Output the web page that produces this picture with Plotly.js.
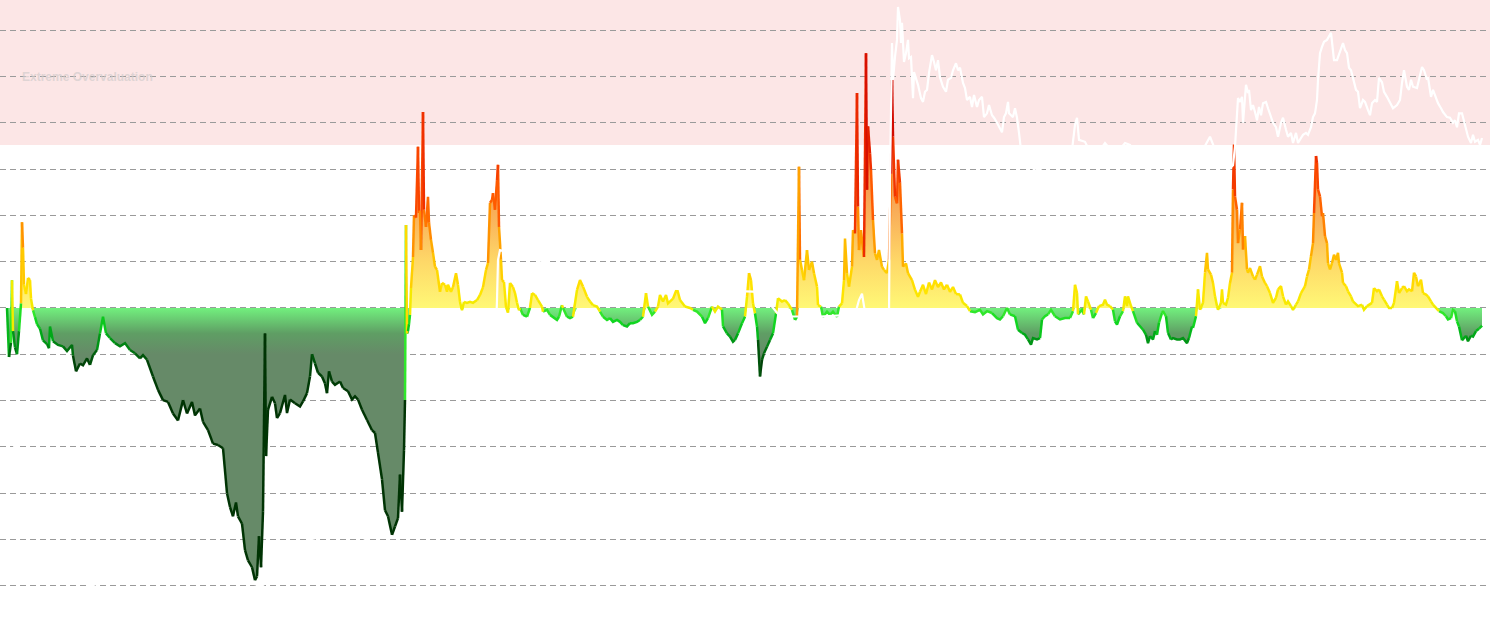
<!DOCTYPE html>
<html>
<head>
<meta charset="utf-8">
<script src="https://cdn.plot.ly/plotly-3.0.1.min.js"></script>
<style>
html,body{margin:0;padding:0;background:#fff;}
#chart{width:1490px;height:633px;}
</style>
</head>
<body>
<div id="chart"></div>
<script>
// ---- Oscillator (time index, value in grid units) ----
const oscT = [7,9,11,12,13,15,17,19,21,22,23,24,26,28,30,31,33,35,37,40,43,47,49,50,53,58,63,67,72,73,76,80,83,87,90,93,97,100,103,106,110,115,120,125,130,135,140,143,147,153,158,163,168,173,178,183,187,192,195,200,203,208,213,218,223,227,230,233,236,238,242,245,248,252,255,257,259,261,263,265,266,268,272,275,277,280,285,287,290,295,300,303,307,310,312,315,318,322,325,327,329,332,335,340,343,348,352,355,358,362,367,372,375,378,382,385,388,392,395,398,400,402,404,405,
406,407,408,409,410,411,413,414,416,418,419,420,421,423,424,426,428,429,431,433,435,437,440,442,445,447,448,451,453,456,458,460,462,464,467,470,473,477,480,483,486,488,490,492,493,495,497,498,499,501,502,504,506,508,510,513,515,517,519,
520,523,527,530,532,535,538,542,543,547,550,553,557,559,562,563,567,570,573,577,580,583,587,590,593,597,600,603,607,610,613,617,620,623,627,630,633,637,640,643,646,648,652,655,658,660,663,666,668,673,677,680,685,690,693,697,702,705,708,712,715,718,722,723,727,730,733,735,738,742,745,747,749,751,753,755,757,758,760,762,764,767,770,773,776,778,782,785,788,792,795,797,799,800,802,804,807,809,812,814,817,818,821,823,827,830,833,837,839,842,844,845,847,849,852,853,855,857,858,859,861,863,864,866,867,868,870,871,873,875,877,879,882,884,887,889,891,892,893,895,897,898,900,902,903,906,908,912,915,918,920,923,926,929,932,935,938,941,944,947,950,953,956,960,963,967,
970,975,980,983,987,992,997,1000,1003,1007,1010,1015,1018,1022,1025,1028,1031,1033,1037,1040,1042,1045,1048,1051,1055,1060,1065,1070,1073,1075,1077,1078,1082,1084,1086,1088,1091,1093,1096,1099,1103,1105,1107,1110,1113,1115,1117,1120,1123,1125,1127,1128,1131,1133,1137,1140,1143,1146,1148,1150,1153,1155,1157,1159,1162,1163,1166,1168,1171,1173,1177,1180,1183,1187,1189,1192,1193,1196,1198,1200,1203,1205,1207,1208,1211,1213,1215,1217,1218,1221,1222,1223,1226,1228,1230,1232,1233,1234,1235,1237,1238,1240,1242,1243,1245,1247,1248,1250,1253,1255,1257,1260,1262,1265,1267,1270,1273,1276,1278,1281,1283,1286,1288,1291,1293,1296,1298,1301,1303,1305,1307,1309,1311,1313,1314,1316,1317,1318,1320,1322,1323,1325,1327,1328,1330,1332,1334,1336,1338,1339,1342,1343,1346,1348,1351,1353,1356,1358,1362,1364,1367,1369,1372,1374,1377,1379,1382,1384,1387,1389,1392,1394,1397,1399,1402,1404,1407,1409,1412,1414,1416,1418,1421,1423,1426,1428,1431,1433,1436,1439,1443,1446,1448,1451,1453,1455,1457,1459,1462,1466,1468,1471,1473,1476,1479,1482];

const oscV = [0,-1.06,-0.75,0.6,-0.5,-0.85,-1.0,-0.5,0.1,1.85,1.3,0.5,0.3,0.65,0.6,0.2,-0.05,-0.2,-0.35,-0.45,-0.7,-0.78,-0.87,-0.4,-0.72,-0.8,-0.83,-0.93,-0.8,-1.03,-1.37,-1.2,-1.24,-1.09,-1.23,-1.02,-0.91,-0.55,-0.19,-0.55,-0.65,-0.76,-0.83,-0.76,-0.91,-0.98,-1.09,-1.02,-1.12,-1.48,-1.77,-1.99,-2.03,-2.28,-2.43,-1.99,-2.28,-2.03,-2.32,-2.17,-2.46,-2.64,-2.93,-2.96,-3.03,-4.0,-4.3,-4.5,-4.2,-4.5,-4.66,-5.23,-5.45,-5.6,-5.88,-5.8,-4.93,-5.6,-4.4,-0.55,-3.2,-2.2,-1.92,-2.06,-2.38,-2.27,-1.88,-2.27,-1.98,-2.06,-2.13,-2.02,-1.84,-1.48,-1.0,-1.2,-1.4,-1.48,-1.63,-1.84,-1.37,-1.59,-1.66,-1.59,-1.73,-1.8,-1.98,-1.91,-1.98,-2.2,-2.42,-2.64,-2.7,-3.13,-3.7,-4.37,-4.5,-4.9,-4.72,-4.54,-3.6,-4.4,-3.07,-1.99,
1.79,-0.55,-0.5,-0.35,-0.15,0.43,1.1,2.0,1.95,3.48,2.05,2.1,1.25,4.23,2.12,1.75,2.4,1.84,1.47,1.19,0.89,0.82,0.35,0.54,0.5,0.35,0.5,0.35,0.45,0.75,0.5,0.13,-0.05,0.13,0.11,0.13,0.11,0.17,0.28,0.45,0.82,0.97,2.27,2.33,2.48,2.12,2.76,3.09,1.75,1.04,0.6,0.56,0.02,-0.1,0.54,0.45,0.32,0.11,-0.05,
0,-0.15,-0.19,0,0.32,0.28,0.17,0.03,-0.08,-0.04,-0.15,-0.19,-0.26,-0.19,0.06,0,-0.19,-0.22,-0.19,0.39,0.6,0.46,0.24,0.14,0.06,0.03,-0.08,-0.19,-0.26,-0.22,-0.3,-0.26,-0.3,-0.37,-0.4,-0.33,-0.33,-0.3,-0.26,-0.19,0.32,0.03,-0.15,-0.08,0.03,0.28,0.14,0.28,0.1,0.2,0.42,0.17,0.03,0,-0.04,-0.08,-0.19,-0.33,-0.22,0.03,-0.08,0.03,-0.04,-0.4,-0.55,-0.62,-0.73,-0.69,-0.55,-0.33,-0.19,0.24,0.75,0.6,0.1,-0.12,-0.4,-0.69,-1.48,-1.12,-0.98,-0.84,-0.69,-0.55,-0.12,0.21,0.14,0.17,0.1,-0.04,-0.26,-0.19,3.05,1.04,0.82,0.6,1.25,0.82,1.0,0.75,0.46,0.06,0.03,-0.19,-0.08,-0.15,-0.08,-0.19,0.03,0.1,0.6,1.5,0.75,0.46,0.89,1.68,1.61,4.64,2.19,1.25,1.68,1.25,1.1,5.5,2.55,3.92,3.34,2.98,1.9,1.18,1.04,1.25,0.89,0.82,0.75,1.04,2.9,4.92,3.7,2.4,2.26,3.2,2.7,1.61,0.89,0.96,0.75,0.6,0.39,0.24,0.35,0.5,0.3,0.55,0.4,0.6,0.45,0.55,0.4,0.5,0.35,0.45,0.3,0.29,0.11,0.04,
-0.07,-0.09,-0.04,-0.14,-0.07,-0.11,-0.22,-0.25,-0.18,0,-0.14,-0.18,-0.47,-0.54,-0.58,-0.68,-0.79,-0.65,-0.68,-0.65,-0.25,-0.18,-0.14,-0.04,-0.18,-0.25,-0.22,-0.22,-0.07,0.5,0.32,-0.14,-0.04,-0.14,0.25,0.14,-0.04,-0.22,-0.11,0.04,0.07,0.18,0.07,0.04,-0.04,-0.29,-0.36,-0.18,-0.07,0.25,0.04,0.25,0.04,-0.07,-0.32,-0.4,-0.47,-0.58,-0.76,-0.61,-0.68,-0.5,-0.58,-0.32,-0.11,-0.07,-0.18,-0.54,-0.68,-0.65,-0.68,-0.68,-0.65,-0.76,-0.65,-0.4,-0.43,-0.18,0.4,-0.04,0.11,0.76,1.19,0.83,0.72,0.54,0.25,0.04,-0.04,0.11,0.4,0.11,0.07,0.22,0.54,0.76,2.56,3.53,2.41,2.12,1.4,1.69,2.27,1.26,1.55,0.83,0.76,0.86,0.68,0.61,0.72,0.9,0.68,0.54,0.47,0.32,0.11,0.22,0.4,0.47,0.25,0.07,0.14,0.04,-0.04,0.07,0.14,0.32,0.4,0.47,0.68,0.83,1.12,1.4,2.05,3.28,3.13,2.56,2.41,1.98,2.05,1.55,1.4,0.97,0.83,0.97,1.15,1.04,1.19,0.97,0.76,0.54,0.47,0.36,0.25,0.14,0.07,0.04,0.07,-0.04,0.04,0.07,0.11,0.43,0.36,0.4,0.25,0.18,0.07,0,0,0.11,0.58,0.32,0.43,0.47,0.36,0.4,0.36,0.76,0.68,0.47,0.61,0.32,0.29,0.25,0.14,0.07,0,-0.07,-0.11,-0.18,-0.25,-0.22,-0.04,-0.07,-0.29,-0.4,-0.7,-0.6,-0.72,-0.6,-0.62,-0.5,-0.45,-0.38];

// ---- Price (white line, secondary scale 0-100) ----
const priceT = [5,15,25,40,60,75,90,110,140,170,210,263,290,310,350,400,455,462,480,496,497,498,500,530,560,600,650,700,760,780,820,855,859,862,865,889,890,892,893,895,897,898,900,901,902,904,906,908,909,911,913,914,916,918,921,923,925,927,929,932,934,936,938,940,943,946,948,951,953,956,958,960,963,965,967,970,972,974,977,979,982,984,987,989,992,994,997,999,1002,1004,1006,1008,1009,1011,1013,1015,1017,1019,1021,1030,1037,1045,1060,1072,1075,1077,1079,1085,1090,1100,1105,1115,1125,1130,1140,1148,1157,1168,1180,1192,1200,1207,1210,1214,1220,1228,1233,1235,1237,1238,1240,1242,1243,1246,1248,1249,1251,1253,1255,1257,1259,1261,1263,1266,1268,1271,1273,1276,1278,1281,1283,1286,1288,1291,1293,1296,1298,1301,1303,1306,1308,1311,1313,1315,1317,1318,1320,1322,1324,1327,1329,1331,1332,1334,1337,1339,1342,1343,1345,1347,1349,1351,1353,1356,1358,1360,1363,1365,1368,1370,1372,1375,1377,1379,1382,1384,1387,1390,1393,1397,1400,1402,1404,1407,1409,1411,1413,1417,1419,1422,1424,1427,1428,1431,1433,1436,1438,1441,1443,1447,1450,1453,1455,1457,1459,1462,1464,1466,1468,1471,1473,1475,1478,1480,1482];
const priceV = [25.8,29.7,28.6,21.0,16.3,13.9,7.6,6.5,7.1,5.2,5.5,7.6,10.7,14.8,16.3,11.5,11.5,47.9,47.6,47.9,52.6,58.9,60.5,59.2,58.1,55.5,54.5,54.2,53.9,50.0,50.0,50.3,52.6,53.6,50.7,50.2,71.6,93.2,87.4,91.0,93.7,98.9,96.8,93.2,96.4,90.2,91.6,93.7,90.8,91.0,84.5,88.6,87.7,86.6,84.5,83.9,85.5,85.8,88.5,91.3,90.2,88.9,90.5,87.8,86.3,85.5,87.4,87.7,88.9,90.0,88.9,89.3,86.9,86.1,84.2,84.7,83.1,85.0,83.1,84.2,84.7,81.5,82.1,83.4,81.8,81.4,80.6,79.9,79.1,81.5,82.1,83.9,82.1,81.8,81.5,82.9,81.4,79.0,76.3,73.9,72.8,73.9,74.7,76.3,80.3,81.4,77.9,77.6,76.0,76.3,77.4,75.5,77.4,77.1,74.7,72.8,74.7,72.8,72.4,73.1,75.5,77.4,78.4,76.8,75.0,73.1,73.9,76.8,81.5,84.5,83.9,84.7,80.6,86.6,85.3,85.8,82.6,83.4,82.3,81.0,83.1,81.8,83.7,83.9,82.9,81.5,80.6,79.9,78.4,80.6,81.4,79.5,78.4,79.0,77.4,79.0,77.4,78.2,78.7,79.0,78.7,79.9,81.5,82.1,84.2,87.4,91.6,92.6,93.4,93.7,94.2,94.8,93.4,90.5,90.5,91.3,92.6,93.2,92.1,91.6,89.3,88.9,87.7,85.8,85.5,82.9,84.2,83.9,82.6,81.8,83.7,84.2,83.9,87.7,87.0,85.5,84.7,83.7,82.9,83.4,84.2,86.9,88.9,86.3,85.8,87.4,86.3,86.1,87.4,89.4,88.9,87.4,87.8,84.7,85.8,84.7,83.7,82.9,82.3,81.5,81.4,80.6,81.0,79.9,82.1,82.1,81.0,79.8,78.4,77.4,78.7,77.6,77.9,77.1,78.2];

// ---- Zones / labels ----
const zoneLabel = "Extreme Overvaluation";
const zoneFrom = 3.52;

// ---- colour helpers (styling) ----
const posStops = [[0,[242,236,0]],[0.4,[255,228,0]],[1,[255,196,0]],[1.5,[255,154,0]],[2,[255,112,0]],[2.5,[255,84,0]],[3.2,[240,48,0]],[4,[216,16,0]],[5,[196,0,0]]];
const negStops = [[0,[64,240,48]],[0.3,[16,214,32]],[0.6,[0,168,24]],[0.9,[0,112,16]],[1.2,[0,68,8]],[2,[0,52,4]]];
function interp(stops, a){
  if (a <= stops[0][0]) return stops[0][1];
  for (let i=1;i<stops.length;i++){
    if (a <= stops[i][0]){
      const [a0,c0]=stops[i-1],[a1,c1]=stops[i];
      const f=(a-a0)/(a1-a0);
      return c0.map((c,k)=>Math.round(c+(c1[k]-c)*f));
    }
  }
  return stops[stops.length-1][1];
}
function colorFor(v){
  const c = v >= 0 ? interp(posStops, v) : interp(negStops, -v);
  return 'rgb('+c.join(',')+')';
}

const traces = [];
// fills
traces.push({
  x: oscT, y: oscV.map(v=>Math.min(v,0)), type:'scatter', mode:'lines',
  line:{width:0}, fill:'tozeroy', hoverinfo:'skip',
  fillgradient:{type:'vertical', start:-1, stop:0,
    colorscale:[[0,'#668a68'],[0.45,'#5f9e64'],[1,'#72f07e']]}
});
traces.push({
  x: oscT, y: oscV.map(v=>Math.max(v,0)), type:'scatter', mode:'lines',
  line:{width:0}, fill:'tozeroy', hoverinfo:'skip',
  fillgradient:{type:'vertical', start:0, stop:4,
    colorscale:[[0,'#fff876'],[0.25,'#fed868'],[0.5,'#f9b05a'],[0.75,'#f59048'],[1,'#f07838']]}
});
// price line
traces.push({
  x: priceT, y: priceV, type:'scatter', mode:'lines', yaxis:'y2',
  line:{color:'#ffffff', width:2.2}, hoverinfo:'skip'
});
// oscillator line, coloured by level
const groups = new Map();
let prevKey = null;
for (let i=0;i<oscT.length-1;i++){
  const m = (oscV[i]+oscV[i+1])/2;
  const key = (Math.round(m*10)/10).toFixed(1);
  if (!groups.has(key)) groups.set(key,{x:[],y:[]});
  const g = groups.get(key);
  if (key === prevKey){
    g.x.push(oscT[i+1]); g.y.push(oscV[i+1]);
  } else {
    if (g.x.length){ g.x.push(null); g.y.push(null); }
    g.x.push(oscT[i], oscT[i+1]); g.y.push(oscV[i], oscV[i+1]);
  }
  prevKey = key;
}
for (const [key,g] of groups){
  traces.push({x:g.x, y:g.y, type:'scatter', mode:'lines', connectgaps:false,
    line:{color:colorFor(parseFloat(key)), width:2.5}, hoverinfo:'skip'});
}

const layout = {
  width:1490, height:633,
  margin:{l:0,r:0,t:0,b:0,pad:0},
  paper_bgcolor:'#ffffff', plot_bgcolor:'rgba(0,0,0,0)',
  showlegend:false,
  xaxis:{range:[0,1490], showgrid:false, zeroline:false, showticklabels:false, ticks:'', showline:false, fixedrange:true},
  yaxis:{range:[-7.02,6.65], dtick:1, tick0:0, showgrid:true, gridcolor:'#9a9a9a', gridwidth:1, griddash:'6px,4px',
         zeroline:false, showticklabels:false, ticks:'', showline:false, fixedrange:true},
  yaxis2:{range:[0,100], overlaying:'y', showgrid:false, zeroline:false, showticklabels:false, ticks:'', showline:false, fixedrange:true},
  shapes:[{type:'rect', xref:'paper', x0:0, x1:1, yref:'y', y0:zoneFrom, y1:20,
           fillcolor:'#fce6e6', line:{width:0}, layer:'below'}],
  annotations:[{text:'<b>'+zoneLabel+'</b>', xref:'paper', x:20/1490, xanchor:'left', yref:'y', y:4.99, yanchor:'middle',
                showarrow:false, font:{family:'Liberation Sans, Arial, sans-serif', size:12, color:'rgba(210,204,204,0.7)'}}]
};

Plotly.newPlot('chart', traces, layout, {displayModeBar:false, staticPlot:true});
</script>
</body>
</html>
